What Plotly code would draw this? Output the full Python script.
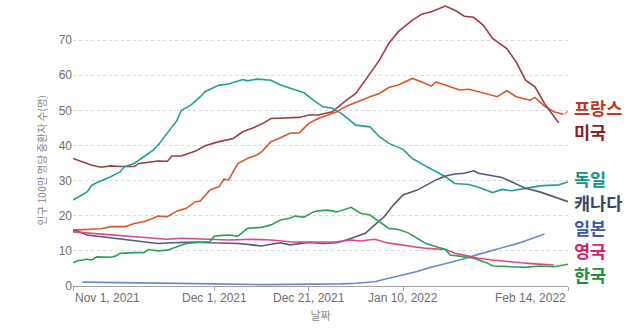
import pandas as pd
import plotly.graph_objects as go

# ICU patients per million, 7-day series, day offsets from 2021-11-01
START = "2021-11-01"

france_days = [0, 4, 6, 8, 11, 13, 15, 17, 18, 20, 22, 24, 26, 27, 29, 31, 32, 33, 35, 37,
               39, 40, 42, 44, 46, 48, 50, 52, 54, 56, 58, 61, 63, 65, 67, 69, 72, 74, 76, 77,
               79, 82, 84, 86, 90, 92, 94, 97, 98, 100, 102, 104]
france_vals = [15.9, 16.2, 16.3, 16.9, 16.9, 17.8, 18.3, 19.3, 19.9, 19.7, 21.3, 22.1, 24.0, 24.2,
               27.3, 28.3, 30.4, 30.2, 34.9, 36.3, 37.3, 38.2, 41.1, 42.2, 43.5, 43.6, 46.3, 47.7,
               48.7, 49.6, 51.2, 52.9, 53.9, 54.8, 56.5, 57.2, 59.1, 58.1, 56.9, 58.1, 57.2, 55.8,
               56.0, 55.3, 53.9, 55.6, 53.9, 52.9, 53.7, 51.2, 49.6, 48.9]

usa_days = [0, 4, 6, 8, 10, 13, 14, 16, 18, 20, 21, 23, 26, 28, 31, 34, 36, 38, 40, 42,
            45, 48, 50, 52, 55, 58, 60, 62, 65, 67, 69, 72, 74, 76, 79, 81, 83, 85, 87, 89,
            92, 94, 96, 98, 100, 103]
usa_vals = [36.3, 34.4, 33.8, 34.2, 34.0, 34.0, 34.9, 35.2, 35.6, 35.5, 37.0, 37.0, 38.4, 39.9,
            41.1, 42.0, 43.9, 44.9, 46.1, 47.7, 47.9, 48.0, 48.7, 48.7, 49.6, 52.9, 54.8, 58.6,
            64.3, 69.1, 72.4, 75.7, 77.4, 78.1, 79.7, 78.5, 76.8, 76.5, 74.3, 70.5, 67.6, 63.8,
            58.6, 56.7, 52.0, 46.5]

germany_days = [0, 3, 4, 5, 8, 10, 11, 13, 15, 17, 18, 20, 22, 23, 25, 27, 28, 31, 33, 36,
                37, 39, 42, 44, 46, 49, 51, 53, 55, 57, 60, 63, 65, 67, 70, 72, 75, 77, 79, 81,
                84, 86, 89, 91, 93, 96, 99, 103, 105]
germany_vals = [24.5, 26.8, 28.7, 29.4, 31.1, 32.5, 34.0, 34.9, 36.8, 38.7, 40.0, 43.5, 47.0,
                50.0, 51.5, 53.9, 55.3, 57.2, 57.5, 58.8, 58.4, 58.9, 58.6, 57.2, 56.3, 55.0,
                52.9, 51.0, 50.6, 49.1, 45.8, 45.3, 42.5, 40.6, 38.9, 36.3, 34.0, 32.5, 31.1,
                29.2, 28.9, 28.1, 26.6, 27.5, 27.1, 27.8, 28.5, 28.8, 29.6]

canada_days = [0, 1, 3, 5, 7, 9, 11, 13, 15, 18, 21, 24, 26, 29, 33, 35, 38, 40, 42, 44,
               46, 48, 50, 53, 56, 58, 60, 62, 64, 66, 68, 70, 73, 75, 77, 79, 81, 83, 85, 86,
               88, 91, 93, 96, 99, 102, 105]
canada_vals = [15.9, 15.6, 14.5, 14.2, 13.9, 13.6, 13.1, 12.8, 12.7, 12.1, 12.3, 12.5, 12.5,
               12.3, 12.1, 12.1, 11.7, 11.4, 11.9, 12.3, 11.7, 12.1, 12.4, 12.1, 12.3, 13.1,
               14.0, 15.0, 17.4, 19.7, 23.1, 25.9, 27.3, 28.7, 30.2, 31.3, 31.9, 32.1, 32.8,
               32.1, 31.6, 30.9, 29.7, 27.8, 26.8, 25.4, 24.0]

japan_days = [2, 10, 20, 30, 40, 50, 57, 60, 64, 67, 70, 73, 75, 78, 82, 86, 91, 95, 100]
japan_vals = [1.1, 1.0, 0.8, 0.6, 0.4, 0.4, 0.6, 0.8, 1.2, 2.2, 3.1, 4.1, 5.0, 6.0, 7.4, 9.0,
              10.8, 12.4, 14.8]

uk_days = [0, 2, 5, 9, 13, 16, 20, 23, 26, 29, 33, 38, 42, 46, 48, 56, 59, 61, 64, 67,
           70, 73, 75, 79, 81, 84, 86, 89, 92, 95, 98, 102]
uk_vals = [15.4, 15.2, 14.8, 14.4, 14.0, 13.6, 13.3, 13.6, 13.5, 13.4, 13.1, 13.3, 13.1, 12.6,
           12.5, 12.6, 13.1, 12.8, 13.3, 12.2, 11.7, 11.2, 10.7, 10.4, 9.3, 8.5, 7.9, 7.4, 6.9,
           6.6, 6.3, 6.0]

korea_days = [0, 1, 3, 4, 5, 8, 9, 10, 13, 15, 16, 18, 20, 22, 24, 26, 27, 29, 30, 33,
              35, 37, 40, 42, 44, 46, 47, 49, 51, 52, 54, 56, 59, 61, 63, 65, 67, 69, 71, 73,
              75, 79, 80, 82, 85, 88, 89, 93, 96, 99, 102, 105]
korea_vals = [6.6, 7.2, 7.6, 7.4, 8.3, 8.2, 8.5, 9.3, 9.5, 9.5, 10.4, 10.0, 10.2, 11.2, 12.1,
              12.4, 12.4, 12.6, 14.2, 14.5, 14.2, 16.4, 16.7, 17.4, 18.8, 19.3, 19.9, 19.6,
              21.1, 21.4, 21.6, 21.1, 22.4, 20.7, 20.2, 18.3, 16.4, 16.1, 15.2, 13.6, 12.0,
              10.4, 8.8, 8.5, 7.9, 6.5, 5.7, 5.5, 5.3, 5.7, 5.5, 6.2]

country_names = ["프랑스", "미국", "독일", "캐나다", "일본", "영국", "한국"]
line_colors = ["#d9572c", "#9c3d45", "#22a096", "#4f5b78", "#6a8bca", "#e2468a", "#2fa155"]
label_colors = ["#c2361f", "#8a1f2c", "#17948a", "#3c4866", "#3a5ca6", "#d81f6c", "#1d8c3c"]
# vertical placement of the end labels (in data units)
label_y = [50.7, 43.9, 30.5, 23.7, 16.7, 10.2, 3.2]
# which labels get a short leader line from the line end
has_leader = [True, False, True, True, False, False, True]

tick_dates = ["2021-11-01", "2021-12-01", "2021-12-21", "2022-01-10", "2022-02-14"]
tick_text = ["Nov 1, 2021", "Dec 1, 2021", "Dec 21, 2021", "Jan 10, 2022", "Feb 14, 2022"]
tick_anchor = ["left", "center", "center", "center", "right"]
y_ticks = [0, 10, 20, 30, 40, 50, 60, 70]

series = [
    (france_days, france_vals),
    (usa_days, usa_vals),
    (germany_days, germany_vals),
    (canada_days, canada_vals),
    (japan_days, japan_vals),
    (uk_days, uk_vals),
    (korea_days, korea_vals),
]

start = pd.Timestamp(START)
end = start + pd.Timedelta(days=105)
fig = go.Figure()

for name, color, (days, vals) in zip(country_names, line_colors, series):
    x = start + pd.to_timedelta(days, unit="D")
    fig.add_trace(go.Scatter(
        x=x, y=vals, mode="lines", name=name,
        line=dict(color=color, width=1.6, shape="linear"),
        showlegend=False, hoverinfo="x+y+name",
    ))

# short leader lines from line ends to their labels
for color, (days, vals), yv, lead in zip(line_colors, series, label_y, has_leader):
    if not lead:
        continue
    x_end = start + pd.Timedelta(days=days[-1])
    fig.add_shape(
        type="line", xref="x", yref="y",
        x0=x_end + pd.Timedelta(hours=6), y0=vals[-1],
        x1=end + pd.Timedelta(hours=22), y1=yv,
        line=dict(color=color, width=1),
    )

# country labels at the right end of the lines
for name, color, yv in zip(country_names, label_colors, label_y):
    fig.add_annotation(
        x=1, xref="paper", xanchor="left", xshift=4,
        y=yv, yref="y", yanchor="middle",
        text=f"<b>{name}</b>", showarrow=False,
        font=dict(family="Noto Sans CJK KR", size=17.5, color=color),
    )

# date labels under the axis
for d, t, a in zip(tick_dates, tick_text, tick_anchor):
    fig.add_annotation(
        x=d, xref="x", xanchor=a,
        y=0, yref="paper", yanchor="top", yshift=-3,
        text=t, showarrow=False,
        font=dict(family="Liberation Sans, Arial", size=12, color="#6e6e6e"),
    )

# vertical axis title
fig.add_annotation(
    x=-0.064, xref="paper", xanchor="center",
    y=0.448, yref="paper", yanchor="middle",
    text="인구 100만 명당 중환자 수(명)", textangle=-90, showarrow=False,
    font=dict(family="Noto Sans CJK KR", size=10.5, color="#858585"),
)

fig.update_layout(
    width=640, height=335,
    margin=dict(l=73, r=72, t=5, b=49),
    paper_bgcolor="white", plot_bgcolor="white",
    font=dict(family="Liberation Sans, Arial", size=12, color="#6e6e6e"),
)

fig.update_xaxes(
    type="date",
    range=[start, end],
    tickvals=tick_dates, showticklabels=False,
    ticks="outside", ticklen=4, tickcolor="#a0a0a0", tickwidth=1,
    showline=True, linecolor="#a0a0a0", linewidth=1,
    showgrid=False, zeroline=False,
    title=dict(text="날짜", standoff=22,
               font=dict(family="Noto Sans CJK KR", size=11, color="#8a8a8a")),
)

fig.update_yaxes(
    range=[0, 80],
    tickvals=y_ticks,
    showgrid=True, gridcolor="#d6d6d6", gridwidth=1, griddash="dot",
    zeroline=False, showline=False, ticks="",
    tickfont=dict(family="Liberation Sans, Arial", size=12, color="#6e6e6e"),
)

fig.write_html("out.html")
